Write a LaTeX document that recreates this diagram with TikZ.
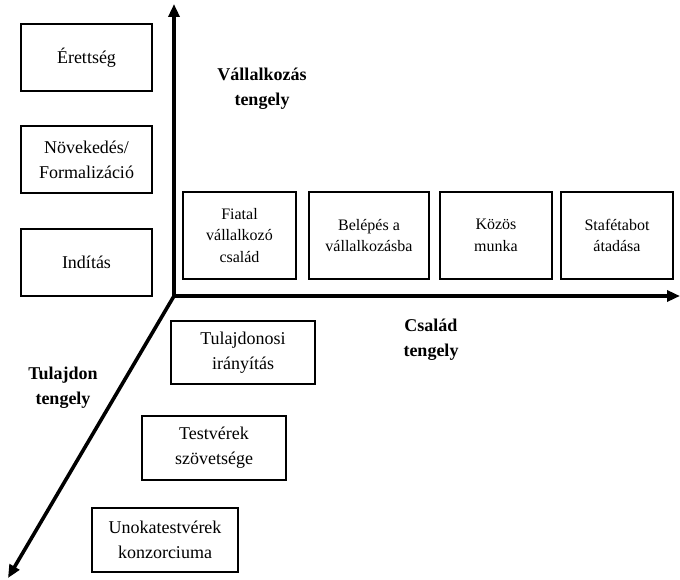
\documentclass[tikz,border=0pt]{standalone}
\usepackage{fontspec}
\setmainfont{Liberation Serif}
\usepackage{tikz}
\usetikzlibrary{arrows.meta,positioning}
\tikzset{
    stagebox/.style={
        draw,
        line width=1.3pt,
        align=center,
        inner sep=2pt,
        font=\fontsize{18}{25}\selectfont
    },
    smallbox/.style={
        stagebox,
        minimum height=87pt,
        font=\fontsize{16}{21.7}\selectfont
    },
    axislabel/.style={
        align=center,
        font=\fontsize{18}{25}\selectfont\bfseries
    },
    axis/.style={
        -{Triangle[length=13pt,width=11pt]},
        line width=3.6pt
    }
}

\begin{document}
\begin{tikzpicture}[x=1pt,y=-1pt]
    \useasboundingbox (0,0) rectangle (680,580);

    \coordinate (origo) at (174,296);
    \coordinate (vtop) at (174,4);
    \coordinate (hend) at (680,296);
    \coordinate (dend) at (8,578);

    % axes
    \draw[axis] (origo) -- (vtop);
    \draw[axis] (origo) -- (hend);
    \draw[axis] (origo) -- (dend);

    % vállalkozás tengely
    \node[stagebox, minimum width=131pt, minimum height=67pt] (erett) at (86.5,57.5) {Érettség};
    \node[stagebox, minimum width=131pt, minimum height=67pt] (novek) at (86.5,159.5) {Növekedés/\\Formalizáció};
    \node[stagebox, minimum width=131pt, minimum height=67pt] (indit) at (86.5,262.5) {Indítás};
    \node[axislabel] (vlabel) at (262,89) {Vállalkozás\\tengely};

    % család tengely
    \node[smallbox, minimum width=113pt] (fiatal) at (239.5,235.5) {Fiatal\\vállalkozó\\család};
    \node[smallbox, minimum width=120pt] (belepes) at (369,235.5) {Belépés a\\vállalkozásba};
    \node[smallbox, minimum width=112pt] (kozos) at (496,235.5) {Közös\\munka};
    \node[smallbox, minimum width=112pt] (staf) at (617,235.5) {Stafétabot\\átadása};
    \node[axislabel] (clabel) at (431,340) {Család\\tengely};

    % tulajdon tengely
    \node[stagebox, minimum width=144pt, minimum height=63pt] (tulaj) at (243,352.5) {Tulajdonosi\\irányítás};
    \node[stagebox, minimum width=144pt, minimum height=64pt] (testv) at (214,448) {Testvérek\\szövetsége};
    \node[stagebox, minimum width=146pt, minimum height=64pt] (unoka) at (165,540) {Unokatestvérek\\konzorciuma};
    \node[axislabel] (tlabel) at (63,388) {Tulajdon\\tengely};
\end{tikzpicture}
\end{document}
